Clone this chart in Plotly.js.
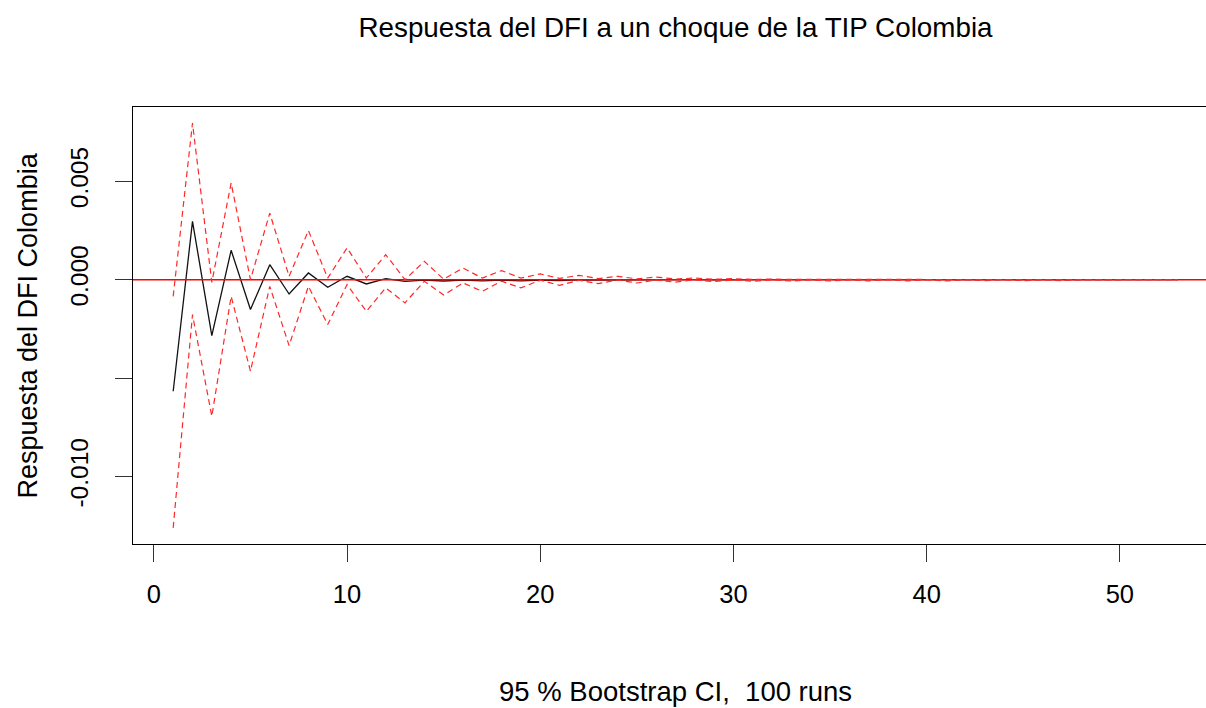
<!DOCTYPE html>
<html>
<head>
<meta charset="utf-8">
<script src="https://cdn.plot.ly/plotly-3.0.1.min.js"></script>
<style>
html,body{margin:0;padding:0;overflow:hidden;background:#fff;}
#chart{width:1240px;height:708px;}
</style>
</head>
<body>
<div id="chart"></div>
<script>
const steps = [];
for (let i = 1; i <= 53; i++) steps.push(i);

const irf = [-0.00567, 0.00296, -0.00284, 0.00149, -0.00152, 0.00076, -0.00073, 0.00034, -0.00039, 0.00017,
  -0.00022, 0.00005, -0.00009, -0.00002, -0.00007, -0.00002, -0.00006, -0.00002, -0.00006, -0.00002,
  -0.00005, -0.00001, -0.00002, -0.00001, -0.00002, -0.00001, -0.00001, 0, -0.00001, 0,
  0, 0, 0, 0, 0, 0, 0, 0, 0, 0,
  0, 0, 0, 0, 0, 0, 0, 0, 0, 0,
  0, 0, 0];

const upper = [-0.00085, 0.00795, -0.00014, 0.00491, 0.00000, 0.00338, 0.00017, 0.00249, 0.00008, 0.00161,
  0.00008, 0.00127, 0.00000, 0.00093, 0.00002, 0.00059, 0.00008, 0.00046, 0.00008, 0.00029,
  0.00006, 0.00022, 0.00005, 0.00017, 0.00004, 0.00013, 0.00003, 0.00008, 0.00002, 0.00005,
  0.00001, 0.00003, 0.00001, 0.00002, 0.00001, 0.00001, 0.00001, 0.00001, 0, 0,
  0, 0, 0, 0, 0, 0, 0, 0, 0, 0,
  0, 0, 0];

const lower = [-0.01261, -0.00178, -0.00694, -0.00085, -0.00465, -0.00034, -0.00335, -0.00034, -0.00228, -0.00025,
  -0.00161, -0.00042, -0.00118, -0.00008, -0.00078, -0.00017, -0.00059, -0.00008, -0.00042, -0.00003,
  -0.00029, -0.00003, -0.00020, -0.00002, -0.00017, -0.00002, -0.00013, -0.00001, -0.00010, -0.00001,
  -0.00008, -0.00001, -0.00007, -0.00001, -0.00007, -0.00001, -0.00006, -0.00001, -0.00006, -0.00001,
  -0.00006, -0.00001, -0.00005, -0.00001, -0.00005, -0.00001, -0.00005, -0.00001, -0.00001, 0,
  0, 0, 0];

const xTickVals = [0, 10, 20, 30, 40, 50];
const yTickVals = [-0.010, -0.005, 0.000, 0.005];
const yTickText = ['-0.010', '', '0.000', '0.005'];
const zeroLevel = 0;

const titleText = 'Respuesta del DFI a un choque de la TIP Colombia';
const xLabel = '95 % Bootstrap CI,  100 runs';
const yLabel = 'Respuesta del DFI Colombia';

const FONT = '"Liberation Sans", Arial, sans-serif';

const traces = [
  {x: steps, y: irf, type: 'scatter', mode: 'lines', line: {color: '#111', width: 1.3}, hoverinfo: 'skip'},
  {x: [-5, 60], y: [zeroLevel, zeroLevel], type: 'scatter', mode: 'lines', line: {color: 'red', width: 1.5}, hoverinfo: 'skip'},
  {x: steps, y: upper, type: 'scatter', mode: 'lines', line: {color: 'rgb(255,40,40)', width: 1.2, dash: '6px,4px'}, hoverinfo: 'skip'},
  {x: steps, y: lower, type: 'scatter', mode: 'lines', line: {color: 'rgb(255,40,40)', width: 1.2, dash: '6px,4px'}, hoverinfo: 'skip'}
];

const layout = {
  width: 1240, height: 708,
  margin: {l: 133, r: 22, t: 107, b: 164, pad: 0},
  paper_bgcolor: '#fff', plot_bgcolor: '#fff',
  showlegend: false,
  font: {family: FONT, size: 25, color: '#000'},
  title: {text: titleText, font: {family: FONT, size: 27.8, color: '#000'},
          x: 0.5, xref: 'paper', xanchor: 'center', y: 1 - 27/708, yref: 'container', yanchor: 'middle'},
  xaxis: {range: [-1.08, 55.08], tickvals: xTickVals, ticktext: xTickVals.map(String),
          showgrid: false, zeroline: false, showline: true, mirror: true, linecolor: '#000', linewidth: 1,
          ticks: 'outside', ticklen: 17, tickcolor: '#333', tickwidth: 1, ticklabelstandoff: 10,
          tickfont: {family: FONT, size: 25.5, color: '#000'}},
  yaxis: {range: [-0.01343, 0.00877], tickvals: yTickVals, ticktext: yTickText, tickangle: -90,
          showgrid: false, zeroline: false, showline: true, mirror: true, linecolor: '#000', linewidth: 1,
          ticks: 'outside', ticklen: 17, tickcolor: '#333', tickwidth: 1, ticklabelstandoff: 17,
          tickfont: {family: FONT, size: 24.5, color: '#000'}},
  annotations: [
    {text: xLabel, xref: 'paper', yref: 'paper', x: 0.5, y: -(692 - 544) / 437.3,
     xanchor: 'center', yanchor: 'middle', showarrow: false, font: {family: FONT, size: 27.5, color: '#000'}},
    {text: yLabel, xref: 'paper', yref: 'paper', x: (27 - 133) / 1085, y: 0.5, textangle: -90,
     xanchor: 'center', yanchor: 'middle', showarrow: false, font: {family: FONT, size: 27, color: '#000'}}
  ]
};

Plotly.newPlot('chart', traces, layout, {displayModeBar: false, staticPlot: true});
</script>
</body>
</html>
